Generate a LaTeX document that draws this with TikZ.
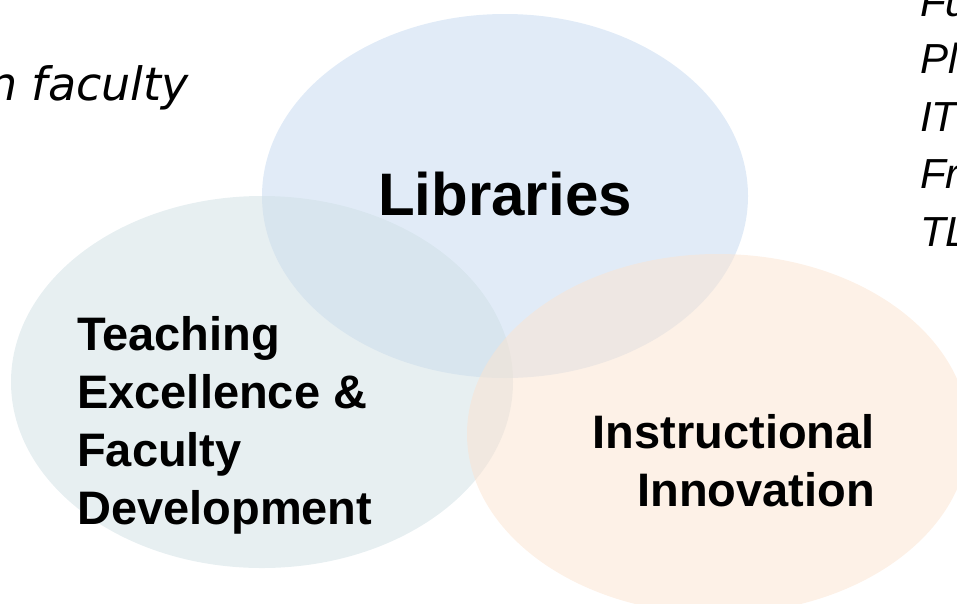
\documentclass[tikz,border=0pt]{standalone}
\usepackage{fontspec}
\setmainfont{Liberation Sans}
\newfontfamily\notefont{DejaVu Sans}

\definecolor{libblue}{HTML}{C3D8F0}
\definecolor{teachgray}{HTML}{CFDFE4}
\definecolor{innopeach}{HTML}{FBE3CF}

\tikzset{
    venn/.style={fill opacity=0.5},
    circlelabel/.style={inner sep=0pt, text=black, font=\bfseries\fontsize{47}{58}\selectfont},
    sidenote/.style={inner sep=0pt, text=black, font=\itshape\fontsize{42}{57.5}\selectfont, align=left},
}

\begin{document}
\begin{tikzpicture}[x=1pt, y=-1pt, line cap=round, line join=round]
            % frame of the slide crop
            \useasboundingbox (0,0) rectangle (957,603);
            \clip (0,0) rectangle (957,603);

            % centres of the three sets
            \coordinate (Lib) at (505,196);
            \coordinate (Teach) at (262,382);
            \coordinate (Inno) at (718,434);

            % the three sets
            \fill[libblue, venn] (Lib) ellipse [x radius=243pt, y radius=182pt];
            \fill[teachgray, venn] (Teach) ellipse [x radius=251pt, y radius=186pt];
            \fill[innopeach, venn] (Inno) ellipse [x radius=251pt, y radius=180pt];

            % set labels
            \node[circlelabel, font=\bfseries\fontsize{60}{72}\selectfont, anchor=base] (libtext) at (505,215) {Libraries};
            \node[circlelabel, align=left, anchor=north west] (teachtext) at (77,316)
                {Teaching\\Excellence \&\\Faculty\\Development};
            \node[circlelabel, align=right, anchor=north east] (innotext) at (875,414)
                {Instructional\\Innovation};

            % text running off the slide edges
            \node[inner sep=0pt, font=\notefont\itshape\fontsize{46}{54}\selectfont, anchor=base west] (leftnote) at (-12,100) {n faculty};
            \node[sidenote, anchor=north west] (rightnote) at (920,-13) {Fu\\Pl\\IT\\Fr\\TL};
        \end{tikzpicture}
\end{document}
